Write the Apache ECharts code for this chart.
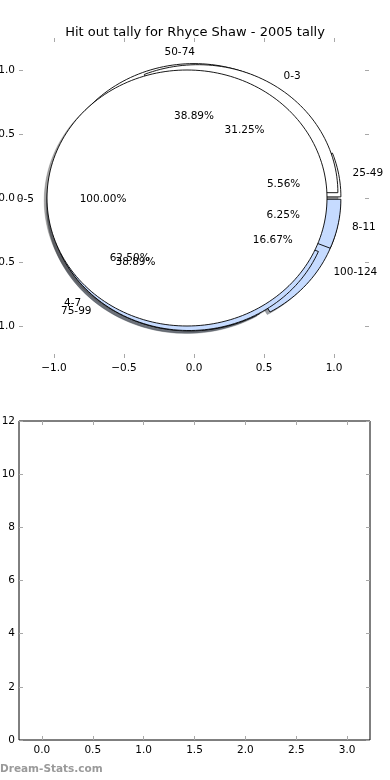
<!DOCTYPE html>
<html><head><meta charset="utf-8">
<script src="https://cdn.jsdelivr.net/npm/echarts@6/dist/echarts.min.js"></script>
<style>html,body{margin:0;padding:0;background:#fff}#c{width:390px;height:780px}</style>
</head><body><div id="c"></div>
<script>
const chartTitle = 'Hit out tally for Rhyce Shaw - 2005 tally';
const pieA_labels = ['0-3', '4-7', '8-11'];
const pieA_values = [5, 10, 1];
const pieB_labels = ['25-49', '50-74', '75-99', '100-124'];
const pieB_values = [1, 7, 7, 3];
const pieC_labels = ['0-5'];
const pieC_values = [1];
const pieTicks = [-1, -0.5, 0, 0.5, 1];
const lowerXTicks = [0, 0.5, 1, 1.5, 2, 2.5, 3];
const lowerYTicks = [0, 2, 4, 6, 8, 10, 12];

const WHITE = '#ffffff', BLUE = '#c6dbff';
const pieA_colors = [WHITE, BLUE, BLUE];
const pieB_colors = [WHITE, WHITE, BLUE, BLUE];
const pieC_colors = [WHITE];
const EXPLODE = 0.05;
const FONT = '"DejaVu Sans", Verdana, sans-serif';

function buildWedges(labels, values, colors) {
  const total = values.reduce((a, b) => a + b, 0);
  let t = 0; const out = [];
  values.forEach((v, i) => {
    const frac = v / total;
    const a1 = t * 2 * Math.PI, a2 = (t + frac) * 2 * Math.PI, m = (a1 + a2) / 2;
    out.push({label: labels[i], pct: (frac * 100).toFixed(2) + '%', frac, a1, a2, m,
      cx: EXPLODE * Math.cos(m), cy: EXPLODE * Math.sin(m), color: colors[i]});
    t += frac;
  });
  return out;
}
const wedgesA = buildWedges(pieA_labels, pieA_values, pieA_colors);
const wedgesB = buildWedges(pieB_labels, pieB_values, pieB_colors);
const wedgesC = buildWedges(pieC_labels, pieC_values, pieC_colors);
const allWedges = wedgesB.concat(wedgesA, wedgesC);

function wedgePoints(api, w, dx, dy) {
  const pts = [];
  const full = w.frac >= 0.999999;
  const n = Math.max(8, Math.ceil(200 * w.frac));
  if (!full) pts.push(api.coord([w.cx + dx, w.cy + dy]));
  for (let k = 0; k <= n; k++) {
    const a = w.a1 + (w.a2 - w.a1) * k / n;
    pts.push(api.coord([w.cx + dx + Math.cos(a), w.cy + dy + Math.sin(a)]));
  }
  return pts;
}
function shadowColor(hex) {
  const r = parseInt(hex.substr(1, 2), 16), g = parseInt(hex.substr(3, 2), 16), b = parseInt(hex.substr(5, 2), 16);
  return 'rgba(' + Math.round(r * 0.3) + ',' + Math.round(g * 0.3) + ',' + Math.round(b * 0.3) + ',0.5)';
}
function wedgeSeries(wedges, z) {
  return {
    type: 'custom', xAxisIndex: 0, yAxisIndex: 0, z: z, silent: true, clip: false,
    data: wedges.map((w, i) => [i]),
    renderItem: function (params, api) {
      const w = wedges[params.dataIndex];
      return {type: 'polygon', shape: {points: wedgePoints(api, w, 0, 0)},
        style: {fill: w.color, stroke: '#000', lineWidth: 0.9}};
    }
  };
}
const shadowSeries = {
  type: 'custom', xAxisIndex: 0, yAxisIndex: 0, z: 1, silent: true, clip: false,
  data: allWedges.map((w, i) => [i]),
  renderItem: function (params, api) {
    const w = allWedges[params.dataIndex];
    return {type: 'polygon', shape: {points: wedgePoints(api, w, -0.02, -0.02)},
      style: {fill: shadowColor(w.color), stroke: shadowColor(w.color), lineWidth: 0.5}};
  }
};
const labelSeries = {
  type: 'custom', xAxisIndex: 0, yAxisIndex: 0, z: 10, silent: true, clip: false,
  data: allWedges.map((w, i) => [i]),
  renderItem: function (params, api) {
    const w = allWedges[params.dataIndex];
    const xt = w.cx + 1.1 * Math.cos(w.m), yt = w.cy + 1.1 * Math.sin(w.m);
    const xp = w.cx + 0.6 * Math.cos(w.m), yp = w.cy + 0.6 * Math.sin(w.m);
    const p1 = api.coord([xt, yt]), p2 = api.coord([xp, yp]);
    const al = xt > 1e-9 ? 'left' : 'right';
    return {type: 'group', children: [
      {type: 'text', x: p1[0] + (al === 'right' ? 1 : 0), y: p1[1] + 1, style: {text: w.label, fill: '#000', font: '10.5px ' + FONT, align: al, verticalAlign: 'middle'}},
      {type: 'text', x: p2[0], y: p2[1] + 1, style: {text: w.pct, fill: '#000', font: '10.5px ' + FONT, align: 'center', verticalAlign: 'middle'}}
    ]};
  }
};

const fmt1 = v => (v < 0 ? '\u2212' : '') + Math.abs(v).toFixed(1);
const tickStyle = {color: '#a8a8a8', width: 1};
function axisX(grid, pos, ticks, min, max, showLabel, fmt) {
  return {type: 'value', gridIndex: grid, position: pos, min: min, max: max,
    axisLine: {show: false, onZero: false}, splitLine: {show: false},
    axisTick: {show: true, inside: true, length: 4, lineStyle: tickStyle, customValues: ticks},
    axisLabel: {show: showLabel, customValues: ticks, formatter: fmt, color: '#000', fontSize: 10.5, fontFamily: FONT, margin: 5}};
}
function axisY(grid, pos, ticks, min, max, showLabel, fmt) {
  return {type: 'value', gridIndex: grid, position: pos, min: min, max: max,
    axisLine: {show: false, onZero: false}, splitLine: {show: false},
    axisTick: {show: true, inside: true, length: 4, lineStyle: tickStyle, customValues: ticks},
    axisLabel: {show: showLabel, customValues: ticks, formatter: fmt, color: '#000', fontSize: 10.5, fontFamily: FONT, margin: 4}};
}

const chart = echarts.init(document.getElementById('c'), null, {renderer: 'canvas'});
chart.setOption({
  animation: false,
  backgroundColor: '#fff',
  title: {text: chartTitle, left: 'center', top: 21,
    textStyle: {fontSize: 13, fontWeight: 'normal', color: '#000', fontFamily: FONT}},
  grid: [
    {left: 19, top: 38, width: 350, height: 320, show: false, containLabel: false, outerBoundsMode: 'none'},
    {left: 19, top: 421, width: 351, height: 319, show: true, borderColor: '#000', borderWidth: 1, backgroundColor: 'transparent', containLabel: false, outerBoundsMode: 'none'}
  ],
  xAxis: [
    axisX(0, 'bottom', pieTicks, -1.25, 1.25, true, fmt1),
    axisX(0, 'top', pieTicks, -1.25, 1.25, false, fmt1),
    axisX(1, 'bottom', lowerXTicks, -0.225, 3.225, true, fmt1),
    axisX(1, 'top', lowerXTicks, -0.225, 3.225, false, fmt1)
  ],
  yAxis: [
    axisY(0, 'left', pieTicks, -1.25, 1.25, true, fmt1),
    axisY(0, 'right', pieTicks, -1.25, 1.25, false, fmt1),
    axisY(1, 'left', lowerYTicks, 0, 12, true, v => String(v)),
    axisY(1, 'right', lowerYTicks, 0, 12, false, v => String(v))
  ],
  graphic: [{type: 'text', left: 0, top: 764, style: {text: 'Dream-Stats.com', fill: '#9a9a9a', font: 'bold 10.5px ' + FONT}}],
  series: [shadowSeries, wedgeSeries(wedgesB, 2), wedgeSeries(wedgesA, 3), wedgeSeries(wedgesC, 4), labelSeries]
});
</script></body></html>
